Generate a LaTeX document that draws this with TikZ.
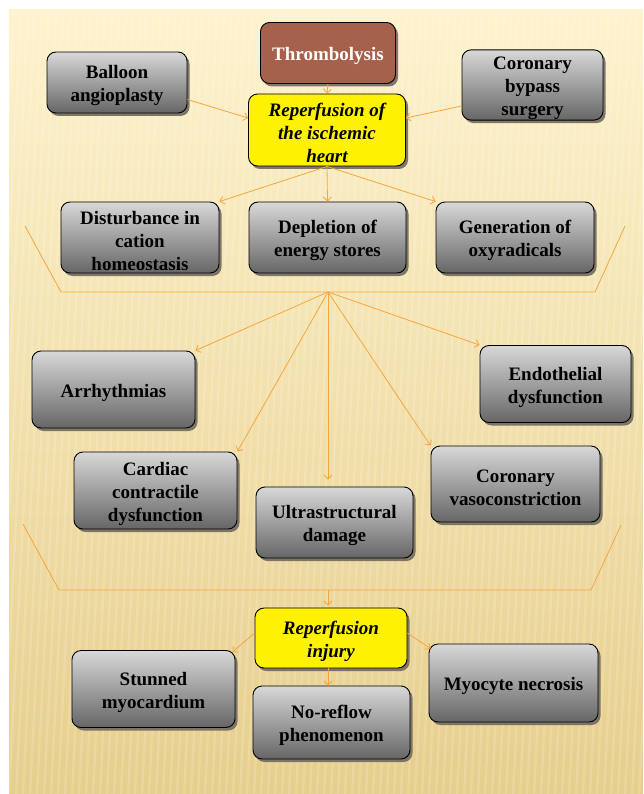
\documentclass[tikz,border=0pt]{standalone}
\usepackage{fontspec}
\setmainfont{Liberation Serif}
\usetikzlibrary{arrows.meta,shadows}
\definecolor{bgtop}{HTML}{FEF3CE}
\definecolor{bgbot}{HTML}{E6CE8C}
\definecolor{arrc}{HTML}{F5A53C}
\definecolor{boxtop}{HTML}{D8D8D8}
\definecolor{boxbot}{HTML}{666666}
\definecolor{thrc}{HTML}{A5614B}
\definecolor{shadc}{HTML}{716B60}
\newcommand{\tup}{\rule{0pt}{20pt}}
\tikzset{
  basebox/.style={draw=black, line width=0.9pt, rounded corners=9pt, align=center, inner sep=0pt,
    font=\fontsize{19}{23}\selectfont\bfseries,
    drop shadow={shadow xshift=2.5pt, shadow yshift=-3pt, fill=shadc, opacity=0.9}},
  gbox/.style={basebox, top color=boxtop, bottom color=boxbot},
  ybox/.style={basebox, fill=yellow, font=\fontsize{19}{23}\selectfont\bfseries\itshape},
  tbox/.style={basebox, fill=thrc, text=white},
  arr/.style={draw=arrc, line width=0.8pt, -{Straight Barb[length=4pt,width=8pt]}},
  brk/.style={draw=arrc, line width=0.8pt}
}
\begin{document}
\begin{tikzpicture}[x=1pt,y=-1pt]
\useasboundingbox (0,0) rectangle (643,794);
\fill[white] (0,0) rectangle (643,794);
\shade[top color=bgtop, bottom color=bgbot] (9,10) rectangle (643,794);
\begin{scope}
\clip (9,10) rectangle (643,794);
\foreach \i in {0,...,100}{
  \draw[white, opacity=0.16, line width=2.4pt] (\i*7-40,794) -- (\i*7,10);
}
\end{scope}
% top row
\node[tbox, minimum width=135, minimum height=61] (thr) at (328,53) {\tup Thrombolysis};
\node[gbox, minimum width=140, minimum height=61] (bal) at (117,82.5) {\tup Balloon\\angioplasty};
\node[gbox, minimum width=141, minimum height=66] (cab) at (532.5,85) {\tup Coronary\\bypass\\surgery};
\node[ybox, minimum width=157, minimum height=72] (rep) at (327,130) {\tup Reperfusion of\\the ischemic\\heart};
% second row
\node[gbox, minimum width=158, minimum height=71] (dist) at (140,237.5) {\tup Disturbance in\\cation\\homeostasis};
\node[gbox, minimum width=157, minimum height=71] (depl) at (327.5,237.5) {\tup Depletion of\\energy stores};
\node[gbox, minimum width=158, minimum height=71] (gen) at (515,237.5) {\tup Generation of\\oxyradicals};
% middle
\node[gbox, minimum width=163, minimum height=77] (arrh) at (113.5,389.5) {\tup Arrhythmias};
\node[gbox, minimum width=151, minimum height=77] (endo) at (555.5,384) {\tup Endothelial\\dysfunction};
\node[gbox, minimum width=163, minimum height=77] (card) at (155.5,490.5) {\tup Cardiac\\contractile\\dysfunction};
\node[gbox, minimum width=157, minimum height=71] (ultra) at (334.5,522.5) {\tup Ultrastructural\\damage};
\node[gbox, minimum width=169, minimum height=76] (vaso) at (515.5,484) {\tup Coronary\\vasoconstriction};
% bottom
\node[ybox, minimum width=152, minimum height=60] (rinj) at (331,638) {\tup Reperfusion\\injury};
\node[gbox, minimum width=163, minimum height=77] (stun) at (153.5,689) {\tup Stunned\\myocardium};
\node[gbox, minimum width=157, minimum height=73] (noref) at (331.5,722.5) {\tup No-reflow\\phenomenon};
\node[gbox, minimum width=169, minimum height=78] (myo) at (513.5,683) {\tup Myocyte necrosis};
% brackets
\coordinate (c1) at (328,292);
\coordinate (b1a) at (25,226);
\coordinate (b1b) at (61,292);
\coordinate (b1c) at (595,292);
\coordinate (b1d) at (625,226);
\draw[brk] (b1a) -- (b1b) -- (b1c) -- (b1d);
\coordinate (c2) at (328,590);
\coordinate (b2a) at (23,524);
\coordinate (b2b) at (59,590);
\coordinate (b2c) at (591,590);
\coordinate (b2d) at (621,525);
\draw[brk] (b2a) -- (b2b) -- (b2c) -- (b2d);
% arrows top
\draw[arr] (thr.south) -- (rep.north);
\draw[arr] ([yshift=-17pt]bal.east) -- ([yshift=12pt]rep.west);
\draw[arr] ([yshift=-21pt]cab.west) -- ([yshift=12pt]rep.east);
\draw[arr] (rep.south) -- (dist.north east);
\draw[arr] (rep.south) -- (depl.north);
\draw[arr] (rep.south) -- (gen.north west);
% arrows middle
\draw[arr] (c1) -- (arrh.north east);
\draw[arr] (c1) -- (endo.north west);
\draw[arr] (c1) -- (card.north east);
\draw[arr, shorten >=7pt] (c1) -- (ultra.north -| c1);
\draw[arr] (c1) -- (vaso.north west);
% arrows bottom
\draw[arr, shorten >=2pt] (c2) -- (rinj.north -| c2);
\draw[arr] ([yshift=5pt]rinj.west) -- ([xshift=-3pt,yshift=-2pt]stun.north east);
\draw[arr] ([yshift=5pt]rinj.east) -- ([xshift=2pt,yshift=-5pt]myo.north west);
\draw[arr] (rinj.south -| c2) -- (noref.north -| c2);
\end{tikzpicture}
\end{document}
